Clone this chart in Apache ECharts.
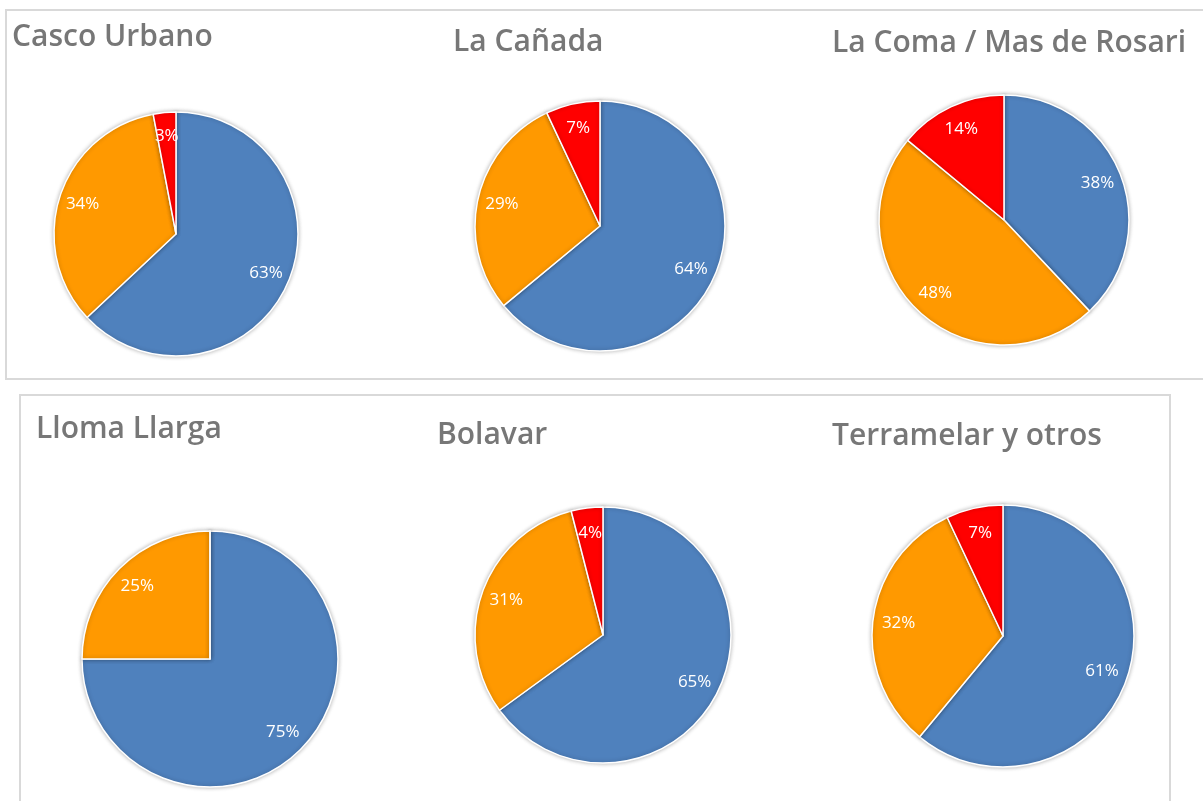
<!DOCTYPE html>
<html>
<head>
<meta charset="utf-8">
<script src="https://cdn.jsdelivr.net/npm/echarts@6/dist/echarts.min.js"></script>
<style>
  html, body { margin: 0; padding: 0; background: #ffffff; }
  #chart { width: 1203px; height: 801px; }
</style>
</head>
<body>
<div id="chart"></div>
<script>
// Neighbourhood names and their share (%) in each of the three categories
const barrios = ['Casco Urbano', 'La Cañada', 'La Coma / Mas de Rosari', 'Lloma Llarga', 'Bolavar', 'Terramelar y otros'];
const categorias = ['Azul', 'Naranja', 'Rojo'];
const valoresAzul    = [63, 64, 38, 75, 65, 61];
const valoresNaranja = [34, 29, 48, 25, 31, 32];
const valoresRojo    = [3, 7, 14, 0, 4, 7];
const colores = ['#4F81BD', '#FF9900', '#FF0000'];

// Layout of each pie: centre and radius in px, plus title placement
const centros = [[176, 234], [600, 226], [1004, 220], [210, 659], [603, 635], [1003, 636]];
const radios  = [122, 125, 125, 128, 128, 131];
const titulos = [[12, 22], [453, 27], [832, 28], [36, 414], [437, 420], [832, 421]];

const chart = echarts.init(document.getElementById('chart'), null, { renderer: 'canvas' });

const series = [];
barrios.forEach((nombre, i) => {
  const datos = categorias.map((c, k) => ({
    name: c,
    value: [valoresAzul, valoresNaranja, valoresRojo][k][i],
    itemStyle: { color: colores[k] }
  }));
  const r = radios[i];
  // the filled pie
  series.push({
    type: 'pie',
    name: nombre,
    center: centros[i],
    radius: [0, r],
    startAngle: 90,
    clockwise: true,
    silent: true,
    animation: false,
    label: { show: false },
    labelLine: { show: false },
    itemStyle: {
      borderColor: '#ffffff',
      borderWidth: 1.5,
      shadowBlur: 4,
      shadowColor: 'rgba(0,0,0,0.28)'
    },
    data: datos
  });
  // transparent ring carrying the percentage labels, placed at ~0.78 r
  series.push({
    type: 'pie',
    name: nombre + ' etiquetas',
    center: centros[i],
    radius: [r * 0.56, r],
    startAngle: 90,
    clockwise: true,
    silent: true,
    animation: false,
    itemStyle: { color: 'rgba(0,0,0,0)', borderWidth: 0 },
    labelLine: { show: false },
    label: {
      show: true,
      position: 'inside',
      color: '#ffffff',
      fontFamily: 'Open Sans',
      fontSize: 17,
      formatter: p => (p.value > 0 ? p.value + '%' : '')
    },
    data: datos.map(d => ({ name: d.name, value: d.value }))
  });
});

chart.setOption({
  backgroundColor: '#ffffff',
  title: barrios.map((nombre, i) => ({
    text: nombre,
    left: titulos[i][0],
    top: titulos[i][1],
    padding: 0,
    textStyle: {
      fontFamily: 'Open Sans',
      fontWeight: 600,
      fontSize: 30,
      color: '#777777'
    }
  })),
  graphic: [
    { type: 'rect', shape: { x: 6, y: 10, width: 1210, height: 369 }, style: { fill: 'none', stroke: '#d9d9d9', lineWidth: 2 }, z: -1 },
    { type: 'rect', shape: { x: 20, y: 395, width: 1150, height: 420 }, style: { fill: 'none', stroke: '#d9d9d9', lineWidth: 2 }, z: -1 }
  ],
  series: series
});
</script>
</body>
</html>
